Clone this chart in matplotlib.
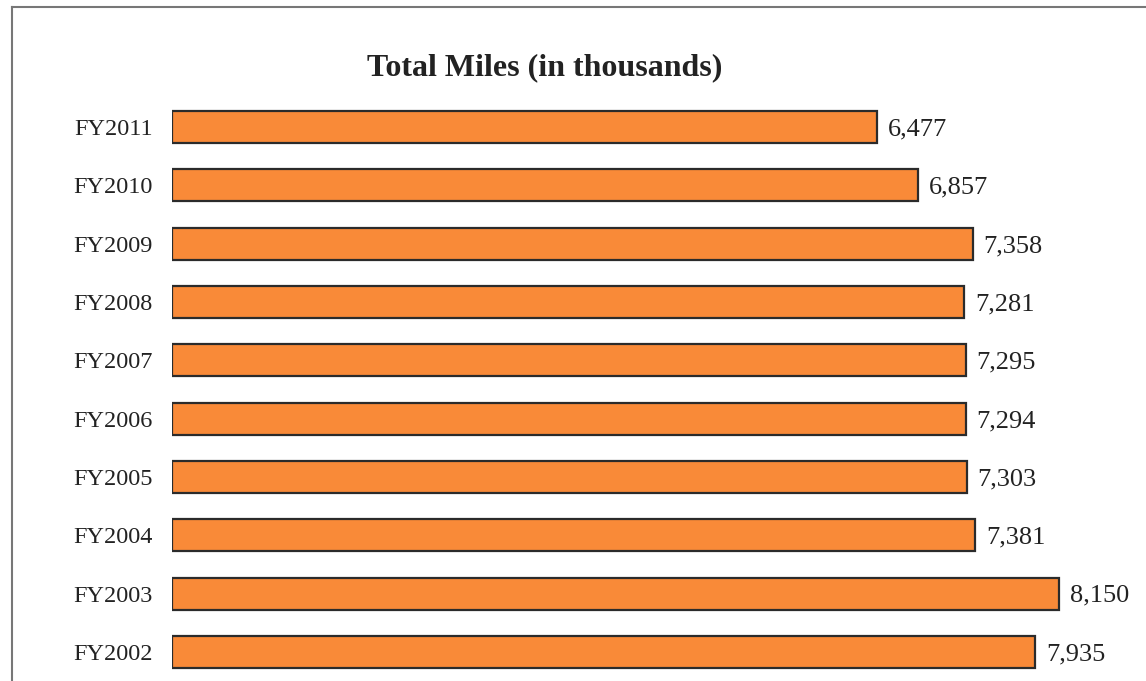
import matplotlib.pyplot as plt
from matplotlib.lines import Line2D

years = ['FY2011', 'FY2010', 'FY2009', 'FY2008', 'FY2007',
         'FY2006', 'FY2005', 'FY2004', 'FY2003', 'FY2002']
miles = [6477, 6857, 7358, 7281, 7295, 7294, 7303, 7381, 8150, 7935]

plt.rcParams['font.family'] = ['Liberation Serif', 'DejaVu Serif']

fig = plt.figure(figsize=(11.46, 6.81), dpi=100)
W, H = 1146, 681

# axes placed in pixel terms: x=0 at 172px, 0.1088 px per unit
x0, xmax = 172, 8800
ax = fig.add_axes([x0 / W, 0, xmax * 0.1088 / W, (682 - 99) / H])
ax.set_ylim(9.5, -0.5)
ax.set_xlim(0, xmax)

pos = list(range(len(years)))
ax.barh(pos, miles, height=0.55, color='#F98A38', edgecolor='#2b2b2b', linewidth=1.6)

for p, v in zip(pos, miles):
    ax.text(v + 100, p + 0.04, f'{v:,}', va='center', ha='left', fontsize=19, color='#222222')

ax.set_yticks(pos)
ax.set_yticklabels(years, fontsize=17.5, color='#222222')
ax.tick_params(axis='y', length=0, pad=14)
ax.set_xticks([])
for s in ax.spines.values():
    s.set_visible(False)

fig.text(545 / W, 1 - 68 / H, 'Total Miles (in thousands)', ha='center', va='center',
         fontsize=23, fontweight='bold', color='#222222')

# scanned frame: top and left edges
fig.add_artist(Line2D([12 / W, 12 / W], [0, 1 - 7 / H], color='#777777', lw=1.5))
fig.add_artist(Line2D([12 / W, 1], [1 - 7 / H, 1 - 7 / H], color='#777777', lw=1.5))

fig.savefig('out.png', dpi=100)
